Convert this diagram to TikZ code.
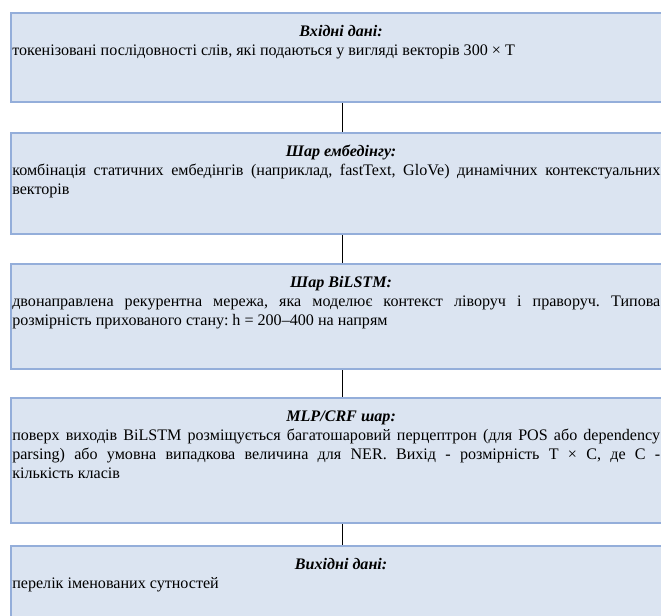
\documentclass[tikz,border=0pt]{standalone}
\usepackage{fontspec}
\setmainfont{Liberation Serif}
\definecolor{boxfill}{RGB}{219,228,241}
\definecolor{boxline}{RGB}{148,174,218}
\newcommand{\layertitle}[1]{{\centering\strut\hspace*{7pt}\bfseries\itshape #1\par}}
\begin{document}
\begin{tikzpicture}[x=0.727pt,y=-0.727pt,
  layerbox/.style={draw=boxline, fill=boxfill, line width=1.5pt,
    anchor=north west, inner sep=0pt, minimum width={662*0.727pt}},
  layertext/.style={anchor=north west, inner sep=0pt, text width={648*0.727pt},
    align=justify, font=\fontsize{11.7}{13.8}\selectfont,
    execute at begin node={\frenchspacing\parindent=0pt\hyphenpenalty=10000\exhyphenpenalty=10000}},
  link/.style={draw=black, line width=0.6pt}]
\useasboundingbox (0,0) rectangle (661,615);
\clip (0,0) rectangle (661,615);

% layer boxes
\node[layerbox, minimum height={89*0.727pt}]  (b1) at (10,12)  {};
\node[layerbox, minimum height={101*0.727pt}] (b2) at (10,132) {};
\node[layerbox, minimum height={105*0.727pt}] (b3) at (10,263) {};
\node[layerbox, minimum height={125*0.727pt}] (b4) at (10,397) {};
\node[layerbox, minimum height={100*0.727pt}] (b5) at (10,545) {};

% connectors between layers
\draw[link] (b1.south) -- (b2.north);
\draw[link] (b2.south) -- (b3.north);
\draw[link] (b3.south) -- (b4.north);
\draw[link] (b4.south) -- (b5.north);

% layer descriptions
\node[layertext] (t1) at (12,23) {\layertitle{Вхідні дані:}
токенізовані послідовності слів, які подаються у вигляді векторів 300 × T};
\node[layertext] (t2) at (12,143) {\layertitle{Шар ембедінгу:}
комбінація статичних ембедінгів (наприклад, fastText, GloVe) динамічних контекстуальних\linebreak
векторів};
\node[layertext] (t3) at (12,274) {\layertitle{Шар BiLSTM:}
двонаправлена рекурентна мережа, яка моделює контекст ліворуч і праворуч. Типова\linebreak
розмірність прихованого стану: h = 200–400 на напрям};
\node[layertext] (t4) at (12,408) {\layertitle{MLP/CRF шар:}
поверх виходів BiLSTM розміщується багатошаровий перцептрон (для POS або dependency\linebreak
parsing) або умовна випадкова величина для NER. Вихід - розмірність T × C, де C -\linebreak
кількість класів};
\node[layertext] (t5) at (12,556) {\layertitle{Вихідні дані:}
перелік іменованих сутностей};
\end{tikzpicture}
\end{document}
